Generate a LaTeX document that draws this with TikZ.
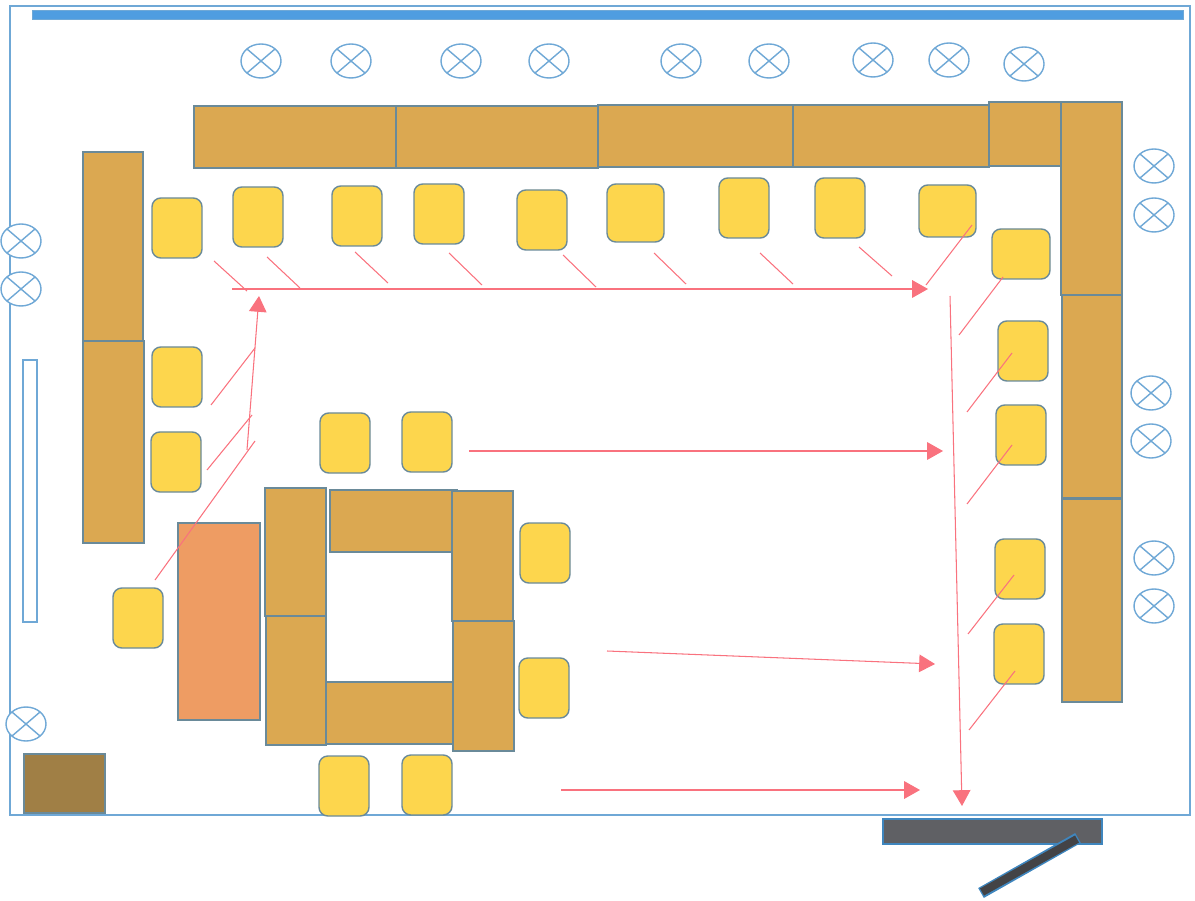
\documentclass[tikz,border=0pt]{standalone}
\usetikzlibrary{arrows.meta}
\definecolor{wall}{HTML}{6FA8D6}
\definecolor{strip}{HTML}{4F9DE0}
\definecolor{shelf}{HTML}{DBA851}
\definecolor{shelfline}{HTML}{6A8A99}
\definecolor{seat}{HTML}{FDD64D}
\definecolor{table}{HTML}{EE9C63}
\definecolor{crate}{HTML}{A07F45}
\definecolor{gate}{HTML}{5F6064}
\definecolor{gateline}{HTML}{3F86BE}
\definecolor{route}{HTML}{F9727E}
\begin{document}
\begin{tikzpicture}[x=0.02cm,y=-0.02cm]
\tikzset{wall lines/.style={line width=.8pt,draw=wall},
  lamp/.style={line width=.8pt,draw=wall,fill=white},
  shelf box/.style={line width=.8pt,draw=shelfline,fill=shelf},
  seat box/.style={line width=.8pt,draw=shelfline,fill=seat,rounded corners=5pt},
  route line/.style={line width=.6pt,draw=route},
  route arrow/.style={route line,-{Triangle[length=9pt,width=10pt,fill=route]}}}
\useasboundingbox(0,0)rectangle(1195,901);

\draw[wall lines](10,6)--(1190,6)--(1190,815)--(10,815)--cycle;
\fill[strip,draw=wall,line width=.5pt](32,10)rectangle(1183,19);
\draw[wall lines,fill=white](23,360)rectangle(37,622);

\foreach \x/\y in {261/61,351/61,461/61,549/61,681/61,769/61,873/60,949/60,1024/64,
  1154/166,1154/215,1151/393,1151/441,1154/558,1154/606,21/241,21/289,26/724}{
  \draw[lamp](\x,\y)ellipse(20 and 17);
  \draw[lamp](\x-14,\y-12)--(\x+14,\y+12)(\x-14,\y+12)--(\x+14,\y-12);}

\foreach \xa/\ya/\xb/\yb in {194/106/396/168,396/106/598/168,598/105/793/167,793/105/989/167,
  989/102/1061/166,1061/102/1122/295,1062/295/1122/498,1062/499/1122/702,
  83/152/143/341,83/341/144/543,
  330/490/457/552,324/682/454/744,265/488/326/616,266/616/326/745,452/491/513/621,453/621/514/751}
\draw[shelf box](\xa,\ya)rectangle(\xb,\yb);

\draw[shelf box,fill=table](178,523)rectangle(260,720);
\draw[shelf box,fill=crate](24,754)rectangle(105,813);
\draw[line width=.9pt,draw=gateline,fill=gate](883,819)rectangle(1102,844);
\draw[line width=6.5pt,draw=gateline](981,893)--(1078,838);
\draw[line width=4.6pt,draw=gate!70!black](982,892)--(1077,839);

\foreach \x/\y in {177/228,258/217,357/216,439/214,542/220,744/208,840/208,
  1023/351,1021/435,1020/569,1019/654,177/377,176/462,138/618,
  345/443,427/442,545/553,544/688,344/786,427/785}
\draw[seat box](\x-25,\y-30)rectangle(\x+25,\y+30);
\draw[seat box](607,184)rectangle(664,242);
\draw[seat box](919,185)rectangle(976,237);
\draw[seat box](992,229)rectangle(1050,279);

\foreach \xa/\ya/\xb/\yb in {214/261/247/291,267/257/300/288,355/252/388/283,449/253/482/285,
  563/255/596/287,654/253/686/284,760/253/793/284,859/247/892/276,
  972/225/926/285,1003/277/959/335,1012/353/967/412,1012/445/967/504,1014/575/968/634,1015/671/969/730,
  255/348/211/405,252/415/207/470,255/441/155/580}
\draw[route line](\xa,\ya)--(\xb,\yb);

\foreach \xa/\ya/\xb/\yb in {232/289/928/289,950/296/962/806,469/451/943/451,607/651/935/664,
  561/790/920/790,247/450/259/296}
\draw[route arrow](\xa,\ya)--(\xb,\yb);
\end{tikzpicture}
\end{document}
